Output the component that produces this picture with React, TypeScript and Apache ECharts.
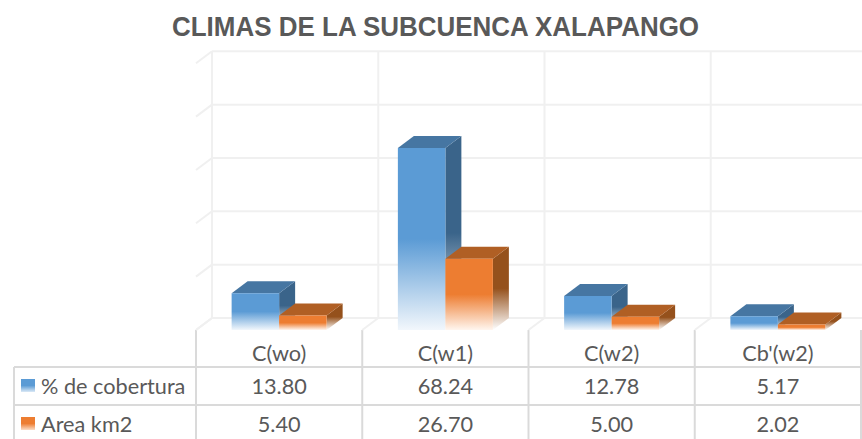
import React, { useEffect, useRef } from "react";
import * as echarts from "echarts";

const titleText = "CLIMAS DE LA SUBCUENCA XALAPANGO";
const categories = ["C(wo)", "C(w1)", "C(w2)", "Cb'(w2)"];
const coberturaName = "% de cobertura";
const coberturaValues = [13.8, 68.24, 12.78, 5.17];
const areaName = "Area km2";
const areaValues = [5.4, 26.7, 5.0, 2.02];
const yTicks = [0, 20, 40, 60, 80, 100];
const categoryIndexes = [0, 1, 2, 3];

const GRID = { left: 196, top: 63.3, width: 665, height: 266.7 };
const DX = 16;
const DY = 12;
const BAR_W = 47.5;
const WALL = "#f0f0f0";
const TABLE = "#dadada";
const TEXT = "#595959";
const FONT = "Lato";
const TEXT_SIZE = 21.7;
const ROW_LINES = [367, 405];
const TABLE_LEFT = 14;
const TABLE_RIGHT = 862;
const TABLE_BOTTOM = 439;
const ROW_Y = [386, 424];

const fade = (c: string, end: string) =>
  new echarts.graphic.LinearGradient(0, 0, 0, 1, [
    { offset: 0, color: c },
    { offset: 0.5, color: c },
    { offset: 1, color: end },
  ]);

const barItem = (palette: { front: string; top: string; side: string; end: string }, slot: number) =>
  (_: any, api: any) => {
    const cx = api.coord([api.value(0), 0])[0];
    const y0 = api.coord([api.value(0), 0])[1];
    const y1 = api.coord([api.value(0), api.value(1)])[1];
    const x0 = cx + slot * BAR_W;
    const x1 = x0 + BAR_W;
    return {
      type: "group",
      children: [
        {
          type: "polygon",
          shape: { points: [[x1, y1], [x1 + DX, y1 - DY], [x1 + DX, y0 - DY], [x1, y0]] },
          style: { fill: fade(palette.side, "#ffffff") },
        },
        {
          type: "polygon",
          shape: { points: [[x0, y1], [x0 + DX, y1 - DY], [x1 + DX, y1 - DY], [x1, y1]] },
          style: { fill: palette.top },
        },
        {
          type: "rect",
          shape: { x: x0, y: y1, width: BAR_W, height: y0 - y1 },
          style: { fill: fade(palette.front, palette.end) },
        },
      ],
    };
  };

const line = (x1: number, y1: number, x2: number, y2: number, stroke: string, lineWidth: number) => ({
  type: "line",
  shape: { x1, y1, x2, y2 },
  style: { stroke, lineWidth },
  silent: true,
});

const hiddenBase = { coordinateSystem: "cartesian2d", silent: true, clip: false };

const swatch = (y: number, c: string, end: string) => ({
  type: "rect",
  shape: { x: 21, y, width: 14, height: 13 },
  style: {
    fill: new echarts.graphic.LinearGradient(0, 0, 0, 1, [
      { offset: 0, color: c },
      { offset: 0.5, color: c },
      { offset: 1, color: end },
    ]),
  },
});

const legendText = (y: number, text: string) => ({
  type: "text",
  x: 41,
  y,
  style: { text, fill: TEXT, font: `${TEXT_SIZE}px ${FONT}`, textVerticalAlign: "middle" },
});

export default function App() {
  const ref = useRef<HTMLDivElement>(null);
  useEffect(() => {
    const chart = echarts.init(ref.current!, null, { renderer: "svg" });
    chart.setOption({
      animation: false,
      backgroundColor: "#ffffff",
      grid: { ...GRID },
      xAxis: {
        type: "category",
        data: categories,
        axisLine: { show: false },
        axisTick: { show: false },
        axisLabel: { color: TEXT, fontFamily: FONT, fontSize: TEXT_SIZE, margin: 12 },
        splitLine: { show: false },
      },
      yAxis: {
        type: "value",
        min: 0,
        max: 100,
        interval: 20,
        axisLine: { show: false },
        axisTick: { show: false },
        axisLabel: { show: false },
        splitLine: { show: false },
      },
      graphic: [
        {
          type: "text",
          x: 172,
          y: 26.5,
          scaleX: 0.962,
          style: {
            text: titleText,
            fill: TEXT,
            font: "bold 27px 'Liberation Sans'",
            textVerticalAlign: "middle",
          },
        },
        ...ROW_LINES.map((y) => line(TABLE_LEFT, y, TABLE_RIGHT, y, TABLE, 2)),
        line(TABLE_LEFT, ROW_LINES[0], TABLE_LEFT, TABLE_BOTTOM, TABLE, 2),
        swatch(379, "#5b9bd5", "#dbe9f6"),
        swatch(417, "#ed7d31", "#fbdcc6"),
        legendText(ROW_Y[0], coberturaName),
        legendText(ROW_Y[1], areaName),
      ],
      series: [
        {
          ...hiddenBase,
          type: "custom",
          name: "walls",
          data: yTicks.map((v) => [0, v]),
          encode: { x: 0, y: 1 },
          z: 1,
          renderItem: (_: any, api: any) => {
            const size = api.size([1, 0])[0];
            const c = api.coord([0, api.value(1)]);
            const left = c[0] - size / 2;
            return {
              type: "group",
              children: [
                line(left, c[1], left + DX, c[1] - DY, WALL, 2),
                line(left + DX, c[1] - DY, TABLE_RIGHT, c[1] - DY, WALL, 2),
              ],
            };
          },
        },
        {
          ...hiddenBase,
          type: "custom",
          name: "columns",
          data: [...categoryIndexes.map((i) => [i, 0]), [categories.length - 1, 1]],
          encode: { x: 0, y: 1 },
          z: 1,
          renderItem: (_: any, api: any) => {
            const size = api.size([1, 0])[0];
            const c = api.coord([api.value(0), 0]);
            const top = api.coord([api.value(0), 100])[1];
            const x = c[0] + (api.value(1) === 1 ? size / 2 : -size / 2);
            const children: any[] = [line(x, c[1], x, TABLE_BOTTOM, TABLE, 2)];
            if (api.value(1) !== 1) {
              children.push(line(x, c[1], x + DX, c[1] - DY, WALL, 2));
              children.push(line(x + DX, c[1] - DY, x + DX, top - DY, WALL, 2));
            }
            return { type: "group", children };
          },
        },
        {
          ...hiddenBase,
          type: "custom",
          name: coberturaName,
          data: categoryIndexes.map((i) => [i, coberturaValues[i]]),
          encode: { x: 0, y: 1 },
          z: 3,
          renderItem: barItem({ front: "#5b9bd5", top: "#4676a2", side: "#3a648a", end: "#f2f7fc" }, -1),
        },
        {
          ...hiddenBase,
          type: "custom",
          name: areaName,
          data: categoryIndexes.map((i) => [i, areaValues[i]]),
          encode: { x: 0, y: 1 },
          z: 4,
          renderItem: barItem({ front: "#ed7d31", top: "#b05f24", side: "#95511c", end: "#fff6ef" }, 0),
        },
        ...[coberturaValues, areaValues].map((vals, row) => ({
          ...hiddenBase,
          type: "custom",
          name: `table${row}`,
          data: categoryIndexes.map((i) => [i, vals[i]]),
          encode: { x: 0, y: 1 },
          z: 5,
          renderItem: (_: any, api: any) => ({
            type: "text",
            x: api.coord([api.value(0), 0])[0],
            y: ROW_Y[row],
            style: {
              text: api.value(1).toFixed(2),
              fill: TEXT,
              font: `${TEXT_SIZE}px ${FONT}`,
              textAlign: "center",
              textVerticalAlign: "middle",
            },
          }),
        })),
      ],
    });
    return () => chart.dispose();
  }, []);
  return <div ref={ref} style={{ position: "fixed", left: 0, top: 0, width: 862, height: 439 }} />;
}
